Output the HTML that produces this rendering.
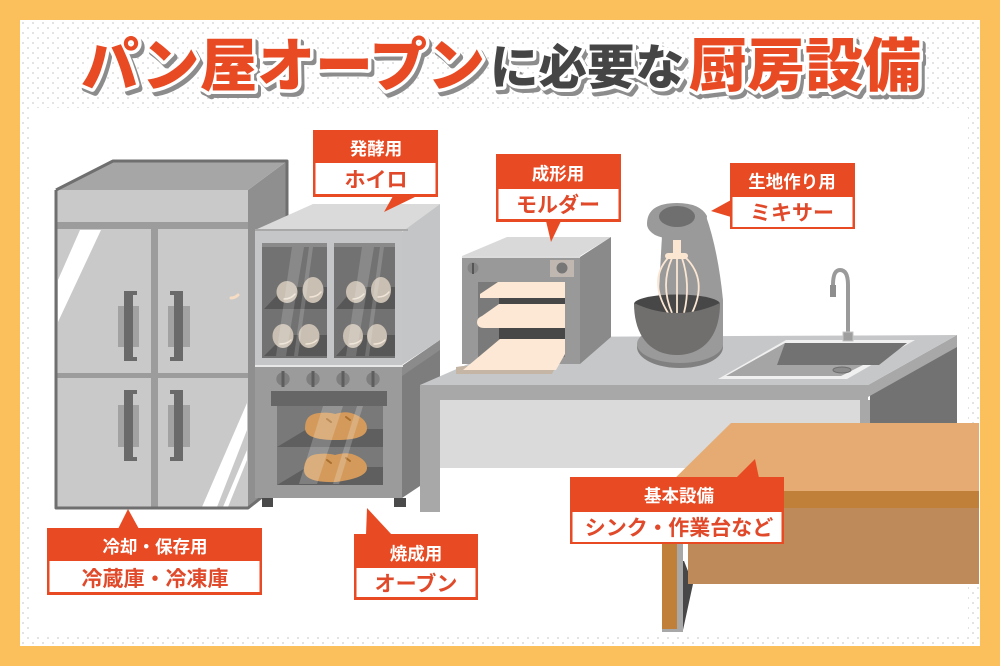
<!DOCTYPE html>
<html lang="ja">
<head>
<meta charset="utf-8">
<style>
html,body{margin:0;padding:0;background:#fbc05c}
svg{display:block}
text{font-family:"Liberation Sans","Noto Sans CJK JP",sans-serif;font-weight:700;text-anchor:middle}
.t{fill:#fff;font-size:17.500px}
.s{fill:#e0492a;font-size:21px}
.title{font-weight:900;font-size:58px;paint-order:stroke;stroke:#fff;stroke-width:7px;stroke-linejoin:round}
</style>
</head>
<body>
<svg width="1000" height="666" viewBox="0 0 1000 666" xmlns="http://www.w3.org/2000/svg">
<defs>
<pattern id="dots" width="10" height="10" patternUnits="userSpaceOnUse">
<rect width="10" height="10" fill="#fff"/>
<circle cx="3" cy="3" r="0.900" fill="#cfcfcf"/>
<circle cx="8" cy="8" r="0.900" fill="#cfcfcf"/>
</pattern>
</defs>
<rect width="1000" height="666" fill="#fbc05c"/>
<rect x="20" y="20" width="960" height="626" fill="url(#dots)"/>
<rect x="32" y="108" width="936" height="528" fill="#fff"/>

<!-- title -->
<g style="filter:drop-shadow(3px 4px 0 #8c8c8c)">
<text class="title" x="283" y="86" fill="#e84b23" textLength="404" lengthAdjust="spacingAndGlyphs">パン屋オープン</text>
<text class="title" x="587" y="84" fill="#454545" style="font-size:48px" textLength="194" lengthAdjust="spacingAndGlyphs">に必要な</text>
<text class="title" x="805" y="86" fill="#e84b23" textLength="232" lengthAdjust="spacingAndGlyphs">厨房設備</text>
</g>

<!-- fridge -->
<polygon points="248,190 287,161 287,400 260,498 248,508" fill="#8f8f8f"/>
<polygon points="56,190 113,161 287,161 248,190" fill="#a6a6a6"/>
<rect x="56" y="190" width="192" height="318" fill="#c9c9c9"/>
<rect x="56" y="222" width="192" height="7" fill="#9c9c9c"/>
<rect x="151" y="229" width="7" height="279" fill="#9c9c9c"/>
<rect x="56" y="373" width="192" height="5" fill="#9c9c9c"/>
<polygon points="80,230 101,230 58,322 58,280" fill="#fff"/>
<polygon points="202,507 247,403 247,430 217,507" fill="#fff"/>
<polygon points="223,507 247,450 247,460 228,507" fill="#fff"/>
<path d="M56 190 L113 161 H287 V350 M56 190 V508 H248 L262 497" fill="none" stroke="#6f6f6f" stroke-width="3" stroke-linejoin="round"/>
<g fill="#a2a2a2">
<rect x="118" y="306" width="21" height="41"/><rect x="168" y="306" width="22" height="41"/>
<rect x="118" y="405" width="21" height="42"/><rect x="168" y="405" width="22" height="42"/>
</g>
<g fill="#6a6a6a">
<path d="M124 291h13v4h-4v62h4v4h-13z"/><path d="M183 291h-13v4h4v62h-4v4h13z"/>
<path d="M124 390h13v4h-4v63h4v4h-13z"/><path d="M183 390h-13v4h4v63h-4v4h13z"/>
</g>
<path d="M231 298q4 0 7-3" stroke="#f6dcc3" stroke-width="3" fill="none" stroke-linecap="round"/>

<!-- proofer / oven -->
<rect x="262" y="498" width="11" height="9" fill="#4a4a4a"/>
<rect x="394" y="498" width="12" height="9" fill="#4a4a4a"/>
<polygon points="402,366 440,340 440,470 420,486 402,498" fill="#7d7d7d"/>
<polygon points="402,366 440,340 440,350 402,376" fill="#8b8b8b"/>
<polygon points="255,230 313,204 440,204 408,228 402,232 255,232" fill="#dadada"/>
<polygon points="402,232 440,204 440,340 402,365" fill="#c4c5c6"/>
<rect x="255" y="231" width="147" height="134" fill="#c5c6c7"/>
<rect x="255" y="229" width="153" height="2" fill="#a8a8a8"/>
<g>
<rect x="262" y="243" width="65" height="115" fill="#727272"/>
<rect x="334" y="243" width="61" height="115" fill="#727272"/>
<rect x="262" y="243" width="65" height="4" fill="#8a8a8a"/>
<rect x="334" y="243" width="61" height="4" fill="#8a8a8a"/>
<polygon points="264,309 327,309 327,287 285,287" fill="#575757"/>
<polygon points="264,356 327,356 327,335 285,335" fill="#575757"/>
<polygon points="336,309 395,309 395,287 355,287" fill="#575757"/>
<polygon points="336,356 395,356 395,335 355,335" fill="#575757"/>
</g>
<g fill="#c9bfb2">
<ellipse cx="287" cy="292" rx="10.500" ry="11"/><ellipse cx="313" cy="290" rx="10.500" ry="13"/>
<ellipse cx="356" cy="292" rx="10" ry="11"/><ellipse cx="381" cy="290" rx="10" ry="13"/>
<ellipse cx="283" cy="336" rx="10.500" ry="12"/><ellipse cx="309" cy="336" rx="10.500" ry="12"/>
<ellipse cx="353" cy="336" rx="10" ry="12"/><ellipse cx="377" cy="336" rx="10" ry="12"/>
</g>
<g fill="none" stroke="#efe4d6" stroke-width="1.500" stroke-linecap="round">
<path d="M284 299q7 0 11-5"/><path d="M310 297q7 0 11-5"/><path d="M353 299q6 0 11-5"/><path d="M378 297q7 0 11-5"/>
<path d="M280 344q7 0 11-4"/><path d="M306 344q7 0 11-4"/><path d="M350 344q7 0 11-4"/><path d="M374 344q7 0 11-4"/>
</g>
<g fill="#fff" opacity=".16">
<polygon points="292,247 304,247 286,356 276,356"/><polygon points="309,247 313,247 298,356 294,356"/>
<polygon points="362,247 374,247 356,356 346,356"/><polygon points="380,247 384,247 369,356 365,356"/>
</g>
<rect x="255" y="366" width="147" height="132" fill="#9b9b9b"/>
<rect x="255" y="365" width="148" height="2" fill="#e8e8e8"/>
<g fill="#7e7e7e">
<circle cx="283" cy="379" r="6.700"/><circle cx="313" cy="379" r="6.700"/><circle cx="343" cy="379" r="6.700"/><circle cx="373" cy="379" r="6.700"/>
</g>
<g fill="#5e5e5e">
<rect x="281.500" y="371" width="3" height="16"/><rect x="311.500" y="371" width="3" height="16"/><rect x="341.500" y="371" width="3" height="16"/><rect x="371.500" y="371" width="3" height="16"/>
</g>
<rect x="271" y="391" width="116" height="15" fill="#666"/>
<rect x="277" y="406" width="106" height="79" fill="#797979"/>
<polygon points="277,447 383,447 383,429 307,429" fill="#5f5f5f"/>
<polygon points="277,485 383,485 383,467 307,467" fill="#5f5f5f"/>
<path d="M305 428q0-14 14-15q10-1 16 1q10-3 16-1q16 5 16 15q0 12-31 12q-31 0-31-12z" fill="#d39a5c"/>
<path d="M304 470q0-15 14-16q10-1 17 1q10-3 17-1q15 5 15 14q0 10-31 14q-32 1-32-12z" fill="#d39a5c"/>
<g fill="none" stroke="#a86f2e" stroke-width="2" stroke-linecap="round">
<path d="M327 419l4 3"/><path d="M346 417l4 3"/><path d="M327 460l4 3"/><path d="M346 458l4 3"/>
</g>
<g fill="#fff" opacity=".2">
<polygon points="323,406 343,406 317,484 299,484"/><polygon points="357,406 363,406 339,484 333,484"/>
</g>

<!-- work table -->
<polygon points="870,390 957,337 957,424 870,424" fill="#727272"/>
<polygon points="868,385 957,335 957,347 868,397" fill="#a8a8a8"/>
<polygon points="420,385 530,337 957,335 868,385" fill="#c6c7c9"/>
<rect x="420" y="385" width="448" height="15" fill="#a8a8a8"/>
<rect x="440" y="400" width="420" height="68" fill="#dadada"/>
<rect x="420" y="400" width="20" height="112" fill="#a8a8a8"/>
<rect x="860" y="400" width="10" height="24" fill="#a8a8a8"/>

<!-- sink -->
<polygon points="786,340 915,340 847,379 718,379" fill="#f0f0f0"/>
<polygon points="785,343 907,343 841,376 726,376" fill="#a5a5a5"/>
<polygon points="785,343 907,343 879,365 777,365" fill="#727272"/>
<ellipse cx="842" cy="370" rx="9" ry="3" fill="#8a8a8a" stroke="#6d6d6d"/>
<path d="M848 333V285Q848 270 840 270Q833 270 833 285" fill="none" stroke="#9a9a9a" stroke-width="4"/>
<rect x="830" y="285" width="6" height="12" fill="#8e8e8e"/>
<rect x="843" y="332" width="10" height="9" fill="#9e9e9e" stroke="#c4c4c4"/>

<!-- mixer -->
<ellipse cx="680" cy="347" rx="43" ry="21" fill="#808080"/>
<ellipse cx="680" cy="344" rx="43" ry="19" fill="#9a9a9a"/>
<path d="M662 236Q660 270 658 310L700 350L723 345V300Q718 250 706 216Z" fill="#9a9a9a"/>
<path d="M647 224Q647 203 677 203Q700 203 707 216Q707 228 690 236Q670 242 655 235Q647 230 647 224Z" fill="#9a9a9a"/>
<ellipse cx="677" cy="216.500" rx="18" ry="10.500" fill="#706f6f"/>
<ellipse cx="677" cy="304" rx="43" ry="9.500" fill="#474747"/>
<rect x="673" y="240" width="8" height="15" fill="#fbe6d2"/>
<rect x="665" y="253" width="23" height="6" rx="3" fill="#fbe6d2"/>
<g fill="none" stroke="#fbe6d2" stroke-width="1.800">
<path d="M668 258Q648 280 668 313"/><path d="M672 258Q660 285 672 313"/><path d="M677 258V313"/><path d="M682 258Q691 285 684 313"/><path d="M686 258Q708 280 692 313"/>
</g>
<path d="M634 303Q677 323 720 303C720 340 700 355 677 355C654 355 634 340 634 303Z" fill="#706f6e"/>

<!-- molder -->
<polygon points="462,256 507,237 611,237 580,256" fill="#d9d9d9"/>
<polygon points="580,257 611,237 611,337 580,364" fill="#8a8a8a"/>
<rect x="462" y="257" width="118" height="107" fill="#999"/>
<rect x="462" y="256" width="118" height="2" fill="#dcdcdc"/>
<circle cx="473" cy="268" r="5.500" fill="#858585"/>
<rect x="472" y="263" width="2" height="11" fill="#555"/>
<rect x="550" y="260" width="24" height="17" fill="#c0b8b0"/>
<circle cx="562" cy="268" r="5.500" fill="#777"/>
<rect x="478" y="282" width="87" height="75" fill="#7a7a7a"/>
<rect x="499" y="298" width="66" height="6" fill="#474747"/>
<rect x="499" y="328" width="66" height="11" fill="#474747"/>
<polygon points="456,367 463,366 556,366 552,374 456,374" fill="#c4b5a5"/>
<polygon points="498,282 565,282 565,298 480,298 480,294" fill="#fce8d4"/>
<path d="M499 304H565V328H484Q477 328 477 322Q477 318 482 316Z" fill="#fce8d4"/>
<polygon points="500,339 565,339 565,354 556,370 463,370" fill="#fce8d4"/>

<!-- wooden table -->
<polygon points="677,543 693,584 683,630 683,561" fill="#474747"/>
<rect x="683" y="543" width="5" height="18" fill="#fff"/>
<polygon points="731,423 979,423 979,491 662,491" fill="#e6ab72"/>
<rect x="662" y="491" width="317" height="17" fill="#c18039"/>
<rect x="688" y="508" width="291" height="76" fill="#be8a59"/>
<rect x="662" y="508" width="15" height="121" fill="#c18039"/>
<rect x="677" y="508" width="6" height="124" fill="#a8a8a8"/>
<rect x="662" y="629" width="21" height="3" fill="#a8a8a8"/>

<!-- labels -->
<g>
<polygon points="393,196 384,212 417,196" fill="#e84b23"/>
<rect x="313" y="130" width="125" height="67" fill="#e84b23"/>
<rect x="315.500" y="163" width="120" height="31" fill="#fff"/>
<text class="t" x="376" y="155">発酵用</text>
<text class="s" x="376" y="187">ホイロ</text>
</g>
<g>
<polygon points="546,221 551,242 561,221" fill="#e84b23"/>
<rect x="496" y="154" width="125" height="68" fill="#e84b23"/>
<rect x="498.500" y="189" width="120" height="30" fill="#fff"/>
<text class="t" x="558" y="180">成形用</text>
<text class="s" x="558" y="212">モルダー</text>
</g>
<g>
<polygon points="731,200 711,211 731,217" fill="#e84b23"/>
<rect x="730" y="163" width="125" height="66" fill="#e84b23"/>
<rect x="732.500" y="197" width="120" height="30" fill="#fff"/>
<text class="t" x="792" y="188">生地作り用</text>
<text class="s" x="792" y="220">ミキサー</text>
</g>
<g>
<polygon points="118,529 128,509 139,529" fill="#e84b23"/>
<rect x="47" y="528" width="215" height="67" fill="#e84b23"/>
<rect x="49.500" y="561" width="210" height="31" fill="#fff"/>
<text class="t" x="155" y="553">冷却・保存用</text>
<text class="s" x="155" y="586">冷蔵庫・冷凍庫</text>
</g>
<g>
<polygon points="366,535 367,508 392,535" fill="#e84b23"/>
<rect x="354" y="534" width="124" height="66" fill="#e84b23"/>
<rect x="356.500" y="568" width="119" height="29" fill="#fff"/>
<text class="t" x="416" y="560">焼成用</text>
<text class="s" x="416" y="591">オーブン</text>
</g>
<g>
<polygon points="736,478 755,459 759,478" fill="#e84b23"/>
<rect x="570" y="477" width="214" height="67" fill="#e84b23"/>
<rect x="572.500" y="512" width="209" height="30" fill="#fff"/>
<text class="t" x="679" y="502">基本設備</text>
<text class="s" x="679" y="535">シンク・作業台など</text>
</g>
</svg>
</body>
</html>
